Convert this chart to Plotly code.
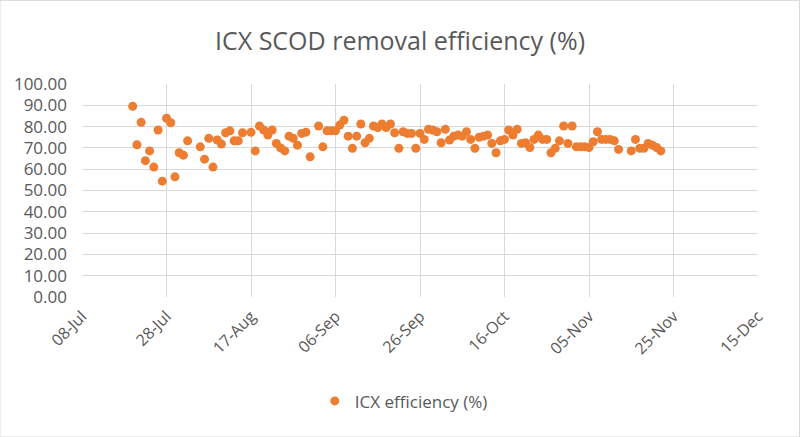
import plotly.graph_objects as go

dates = [
    "2019-07-20", "2019-07-21", "2019-07-22", "2019-07-23", "2019-07-24", "2019-07-25", "2019-07-26",
    "2019-07-27", "2019-07-28", "2019-07-29", "2019-07-30", "2019-07-31", "2019-08-01", "2019-08-02",
    "2019-08-05", "2019-08-06", "2019-08-07", "2019-08-08", "2019-08-09", "2019-08-10", "2019-08-11",
    "2019-08-12", "2019-08-13", "2019-08-14", "2019-08-15", "2019-08-17", "2019-08-18", "2019-08-19",
    "2019-08-20", "2019-08-21", "2019-08-22", "2019-08-23", "2019-08-24", "2019-08-25", "2019-08-26",
    "2019-08-27", "2019-08-28", "2019-08-29", "2019-08-30", "2019-08-31", "2019-09-02", "2019-09-03",
    "2019-09-04", "2019-09-05", "2019-09-06", "2019-09-07", "2019-09-08", "2019-09-09", "2019-09-10",
    "2019-09-11", "2019-09-12", "2019-09-13", "2019-09-14", "2019-09-15", "2019-09-16", "2019-09-17",
    "2019-09-18", "2019-09-19", "2019-09-20", "2019-09-21", "2019-09-22", "2019-09-23", "2019-09-24",
    "2019-09-25", "2019-09-26", "2019-09-27", "2019-09-28", "2019-09-29", "2019-09-30", "2019-10-01",
    "2019-10-02", "2019-10-03", "2019-10-04", "2019-10-05", "2019-10-06", "2019-10-07", "2019-10-08",
    "2019-10-09", "2019-10-10", "2019-10-11", "2019-10-12", "2019-10-13", "2019-10-14", "2019-10-15",
    "2019-10-16", "2019-10-17", "2019-10-18", "2019-10-19", "2019-10-20", "2019-10-21", "2019-10-22",
    "2019-10-23", "2019-10-24", "2019-10-25", "2019-10-26", "2019-10-27", "2019-10-28", "2019-10-29",
    "2019-10-30", "2019-10-31", "2019-11-01", "2019-11-02", "2019-11-03", "2019-11-04", "2019-11-05",
    "2019-11-06", "2019-11-07", "2019-11-08", "2019-11-09", "2019-11-10", "2019-11-11", "2019-11-12",
    "2019-11-15", "2019-11-16", "2019-11-17", "2019-11-18", "2019-11-19", "2019-11-20", "2019-11-21",
    "2019-11-22",
]

efficiency = [
    89.5, 71.5, 82.0, 64.0, 68.6, 61.0, 78.4,
    54.4, 83.9, 81.8, 56.4, 67.7, 66.6, 73.3,
    70.5, 64.7, 74.5, 61.0, 73.7, 71.8, 77.1,
    78.0, 73.3, 73.3, 77.1, 77.3, 68.6, 80.3,
    78.4, 76.0, 78.4, 72.1, 70.0, 68.6, 75.5,
    74.5, 71.3, 76.8, 77.4, 65.8, 80.3, 70.5,
    78.0, 78.0, 78.0, 80.7, 83.0, 75.5, 69.8,
    75.5, 81.2, 72.4, 74.5, 80.3, 79.6, 81.2,
    79.6, 81.2, 77.1, 69.8, 77.6, 76.8, 76.8,
    69.8, 76.8, 74.0, 78.7, 78.4, 77.6, 72.4,
    78.7, 73.7, 75.5, 76.0, 75.5, 77.6, 74.0,
    69.8, 75.0, 75.5, 76.0, 72.1, 67.7, 73.3,
    74.0, 78.4, 76.0, 78.7, 72.1, 72.4, 70.2,
    74.0, 76.0, 74.0, 74.0, 67.7, 69.8, 73.3,
    80.3, 72.1, 80.3, 70.5, 70.5, 70.5, 70.2,
    72.9, 77.6, 74.0, 74.0, 74.0, 73.3, 69.3,
    68.6, 74.0, 69.8, 69.8, 72.1, 71.3, 70.2,
    68.6,
]

x_range = ["2019-07-08", "2019-12-15"]
y_ticks = [0, 10, 20, 30, 40, 50, 60, 70, 80, 90, 100]

FONT = "Open Sans"
GREY = "#595959"
GRID = "#d9d9d9"

fig = go.Figure()
fig.add_trace(go.Scatter(
    x=dates, y=efficiency, mode="markers",
    name="ICX efficiency (%)",
    marker=dict(color="#ED7D31", size=9),
))

fig.update_layout(
    width=800, height=437,
    margin=dict(l=82, r=42, t=84, b=140),
    paper_bgcolor="white", plot_bgcolor="white",
    title=dict(text="ICX SCOD removal efficiency (%)", x=0.5, xanchor="center",
               y=0.905, yanchor="middle",
               font=dict(family=FONT, size=25, color=GREY)),
    font=dict(family=FONT, color=GREY),
    showlegend=True,
    legend=dict(orientation="h", x=0.476, xanchor="center", y=-0.49, yanchor="middle",
                itemwidth=30,
                font=dict(family=FONT, size=17, color=GREY)),
    xaxis=dict(
        type="date", range=x_range, tick0="2019-07-08", dtick=20 * 86400000,
        tickformat="%d-%b", tickangle=-45, automargin=False,
        showgrid=True, gridcolor=GRID, gridwidth=1,
        showline=False, zeroline=False,
        tickfont=dict(family=FONT, size=16, color=GREY),
        ticks="", ticklabelstandoff=6,
    ),
    yaxis=dict(
        range=[0, 100], tickvals=y_ticks, tickformat=".2f", automargin=False,
        showgrid=True, gridcolor=GRID, gridwidth=1,
        showline=False, zeroline=False,
        tickfont=dict(family=FONT, size=17, color=GREY),
        ticks="", ticklabelstandoff=14,
    ),
    shapes=[dict(type="rect", xref="paper", yref="paper",
                 x0=-0.1214, x1=1.0614, y0=-0.657, y1=1.3925,
                 line=dict(color="#d9d9d9", width=1), layer="below")],
)

fig.write_html("out.html", config={"displayModeBar": False},
               post_script="document.body.style.margin='0';document.body.style.overflow='hidden';")
